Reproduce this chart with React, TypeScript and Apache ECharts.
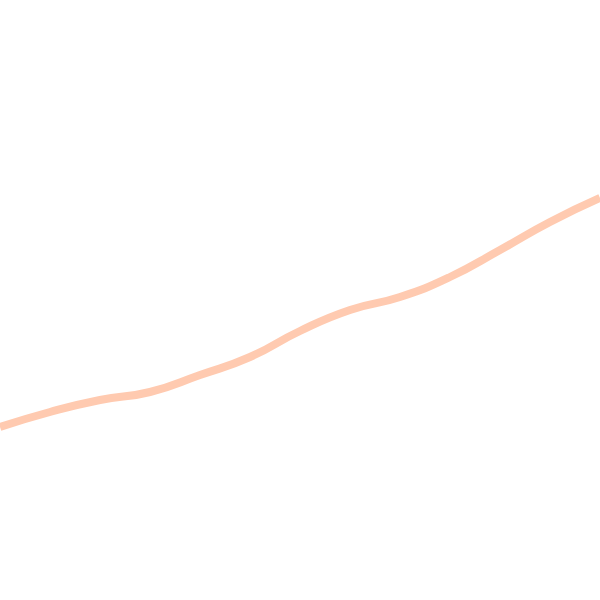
import { useEffect, useRef } from 'react';
import * as echarts from 'echarts';

// points sampled along the line, left to right
const categories = ['0', '1', '2', '3', '4', '5', '6', '7', '8', '9', '10', '11', '12'];
const values = [173, 188, 200, 208, 225, 243, 269, 290, 303, 323, 350, 378, 402];

export default function App() {
  const chartRef = useRef<HTMLDivElement>(null);

  useEffect(() => {
    if (!chartRef.current) return;
    const chart = echarts.init(chartRef.current, null, { renderer: 'svg' });

    chart.setOption({
      animation: false,
      grid: { left: 0, right: 0, top: 0, bottom: 0 },
      xAxis: {
        type: 'category',
        data: categories,
        boundaryGap: false,
        show: false,
      },
      yAxis: {
        type: 'value',
        min: 0,
        max: 600,
        show: false,
      },
      series: [
        {
          type: 'line',
          data: values,
          smooth: true,
          showSymbol: false,
          lineStyle: { color: '#ffcab0', width: 8 },
        },
      ],
    });

    return () => chart.dispose();
  }, []);

  return (
    <div
      ref={chartRef}
      style={{ position: 'fixed', left: 0, top: 0, width: '600px', height: '600px', background: '#fff' }}
    />
  );
}
